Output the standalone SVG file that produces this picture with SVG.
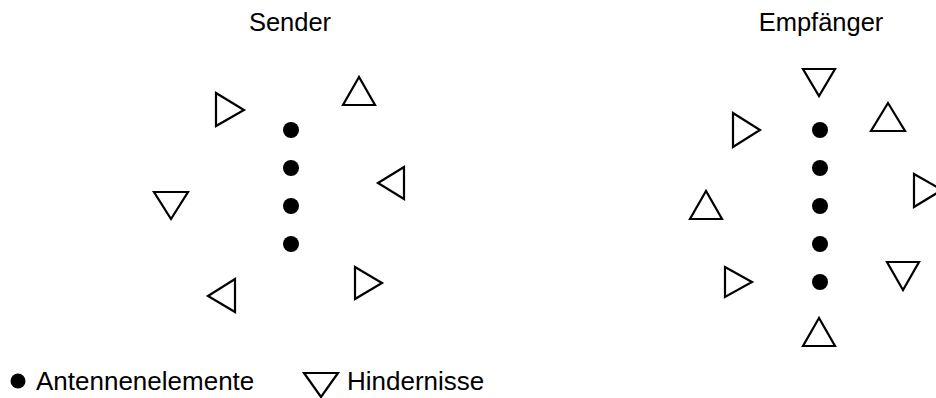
<svg xmlns="http://www.w3.org/2000/svg" width="936" height="398" viewBox="0 0 936 398">
<style>
.t{font-family:"Liberation Sans",Arial,sans-serif;font-size:25.5px;fill:#000}
.lg{font-size:26px}
.tri{fill:none;stroke:#000;stroke-width:2.2;stroke-linejoin:miter}
.dot{fill:#000}
</style>
<rect width="936" height="398" fill="#fff"/>
<g id="sender">
<text class="t" x="290" y="31" text-anchor="middle">Sender</text>
<g id="sender-antennas">
<circle class="dot" cx="291" cy="130" r="8"/>
<circle class="dot" cx="291" cy="168" r="8"/>
<circle class="dot" cx="291" cy="206" r="8"/>
<circle class="dot" cx="291" cy="244" r="8"/>
</g>
<g id="sender-obstacles">
<polygon class="tri" points="216,93 244,110 216,126"/>
<polygon class="tri" points="359,77 343,105 375,105"/>
<polygon class="tri" points="378,183 404,167 404,199"/>
<polygon class="tri" points="154,192 188,192 171,219"/>
<polygon class="tri" points="355,267 382,283 355,299"/>
<polygon class="tri" points="208,296 235,279 235,312"/>
</g>
</g>
<g id="receiver">
<text class="t" x="821" y="31" text-anchor="middle">Empfänger</text>
<g id="receiver-antennas">
<circle class="dot" cx="820" cy="130" r="8"/>
<circle class="dot" cx="820" cy="168" r="8"/>
<circle class="dot" cx="820" cy="206" r="8"/>
<circle class="dot" cx="820" cy="244" r="8"/>
<circle class="dot" cx="820" cy="282" r="8"/>
</g>
<g id="receiver-obstacles">
<polygon class="tri" points="803,69 835,69 819,96"/>
<polygon class="tri" points="888,103 871,131 905,131"/>
<polygon class="tri" points="733,113 760,130 733,147"/>
<polygon class="tri" points="914,174 942,190 914,207"/>
<polygon class="tri" points="706,191 690,219 722,219"/>
<polygon class="tri" points="887,262 919,262 903,290"/>
<polygon class="tri" points="725,267 752,282 725,297"/>
<polygon class="tri" points="819,318 803,346 835,346"/>
</g>
</g>
<g id="legend">
<circle class="dot" cx="18" cy="381" r="7.5"/>
<text class="t lg" x="36" y="390">Antennenelemente</text>
<polygon class="tri" points="304,373 338,373 321,397"/>
<text class="t lg" x="347" y="390">Hindernisse</text>
</g>
<g id="connectors"/>
</svg>
